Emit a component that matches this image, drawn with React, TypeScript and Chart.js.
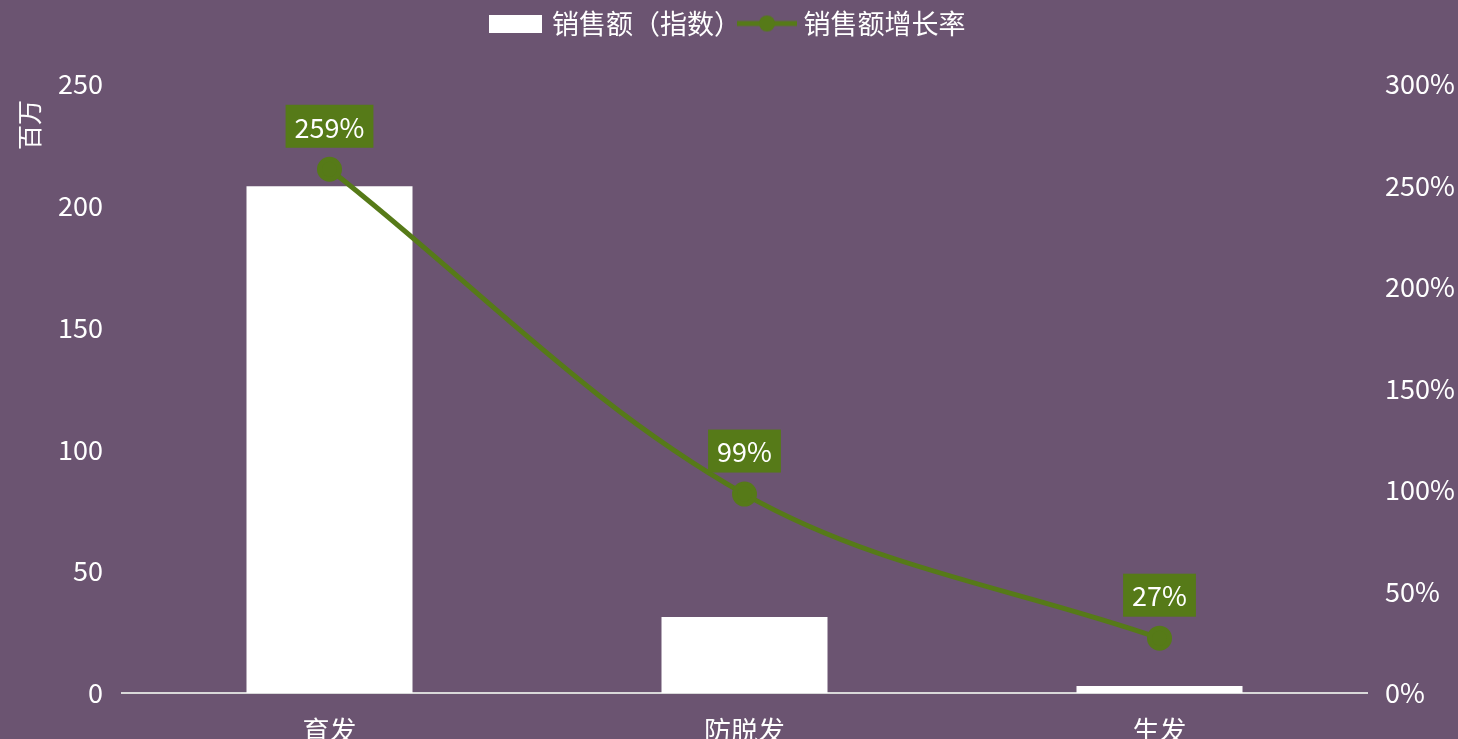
import React, { useEffect, useRef } from "react";
import { Chart, registerables } from "chart.js";

Chart.register(...registerables);

const categories = ["育发", "防脱发", "生发"];
const salesIndex = [208, 31.2, 2.9];
const growthRate = [2.58, 0.98, 0.27];
const growthLabels = ["259%", "99%", "27%"];
const leftTicks = [0, 50, 100, 150, 200, 250];
const rightTicks = [0, 0.5, 1, 1.5, 2, 2.5, 3];

const BG = "#6b5471";
const GREEN = "#567a18";
const FONT = "'Noto Sans CJK SC', 'Noto Sans', sans-serif";
const FS = 27;

function makeBarIcon() {
  const c = document.createElement("canvas");
  c.width = 53;
  c.height = 18;
  const ctx = c.getContext("2d")!;
  ctx.fillStyle = "#ffffff";
  ctx.fillRect(0, 0, 53, 18);
  return c;
}

function makeLineIcon() {
  const c = document.createElement("canvas");
  c.width = 60;
  c.height = 20;
  const ctx = c.getContext("2d")!;
  ctx.strokeStyle = GREEN;
  ctx.lineWidth = 5;
  ctx.beginPath();
  ctx.moveTo(0, 10);
  ctx.lineTo(60, 10);
  ctx.stroke();
  ctx.fillStyle = GREEN;
  ctx.beginPath();
  ctx.arc(30, 10, 8, 0, Math.PI * 2);
  ctx.fill();
  return c;
}

const bgPlugin = {
  id: "bg",
  beforeDraw(chart: any) {
    const ctx = chart.ctx;
    ctx.save();
    ctx.fillStyle = BG;
    ctx.fillRect(0, 0, chart.width, chart.height);
    ctx.restore();
  },
};

const legendGapPlugin = {
  id: "legendGap",
  beforeLayout(chart: any) {
    const leg = chart.legend;
    if (leg && !leg._gapPatched) {
      const orig = leg.fit.bind(leg);
      leg.fit = function () {
        orig();
        this.height += 37;
      };
      leg._gapPatched = true;
    }
  },
};

const extrasPlugin = {
  id: "extras",
  afterDatasetsDraw(chart: any) {
    const ctx = chart.ctx;
    const meta = chart.getDatasetMeta(1);
    ctx.save();
    ctx.font = `${FS}px ${FONT}`;
    ctx.textAlign = "center";
    ctx.textBaseline = "middle";
    meta.data.forEach((pt: any, i: number) => {
      const text = growthLabels[i];
      const w = ctx.measureText(text).width + 18;
      const h = 43;
      const cy = pt.y - 43;
      ctx.fillStyle = GREEN;
      ctx.fillRect(pt.x - w / 2, cy - h / 2, w, h);
      ctx.fillStyle = "#ffffff";
      ctx.fillText(text, pt.x, cy + 1);
    });
    // left axis unit title
    ctx.translate(29, chart.chartArea.top + 41);
    ctx.rotate(-Math.PI / 2);
    ctx.font = `25px ${FONT}`;
    ctx.fillStyle = "#ffffff";
    ctx.fillText("百万", 0, 0);
    ctx.restore();
  },
};

export default function App() {
  const ref = useRef<HTMLCanvasElement>(null);
  useEffect(() => {
    document.body.style.margin = "0";
    const barIcon = makeBarIcon();
    const lineIcon = makeLineIcon();
    const chart = new Chart(ref.current!, {
      type: "bar",
      data: {
        labels: categories,
        datasets: [
          {
            type: "bar",
            label: "销售额（指数）",
            data: salesIndex,
            backgroundColor: "#ffffff",
            borderWidth: 0,
            yAxisID: "y",
            categoryPercentage: 1,
            barPercentage: 0.4,
            order: 2,
          },
          {
            type: "line",
            label: "销售额增长率",
            data: growthRate,
            borderColor: GREEN,
            backgroundColor: GREEN,
            borderWidth: 5,
            pointRadius: 10,
            pointBackgroundColor: GREEN,
            pointBorderColor: GREEN,
            tension: 0.35,
            yAxisID: "y1",
            order: 1,
          },
        ],
      },
      options: {
        responsive: false,
        animation: false,
        maintainAspectRatio: false,
        layout: { padding: { top: 7, left: 0, right: 0, bottom: 0 } },
        plugins: {
          tooltip: { enabled: false },
          legend: {
            display: true,
            position: "top",
            labels: {
              color: "#ffffff",
              font: { family: FONT, size: FS },
              usePointStyle: true,
              pointStyleWidth: 46,
              boxHeight: 20,
              padding: 3,
              generateLabels: (ch: any) =>
                ch.data.datasets.map((ds: any, i: number) => ({
                  text: ds.label,
                  fillStyle: "#fff",
                  strokeStyle: "#fff",
                  lineWidth: 0,
                  pointStyle: i === 0 ? barIcon : lineIcon,
                  hidden: false,
                  datasetIndex: i,
                  fontColor: "#ffffff",
                })),
            },
          },
        },
        scales: {
          x: {
            grid: { display: false },
            border: { display: true, color: "#d9d9d9", width: 2 },
            ticks: {
              color: "#ffffff",
              font: { family: FONT, size: FS },
              padding: 14,
            },
            afterFit: (s: any) => {
              s.height = 46;
            },
          },
          y: {
            position: "left",
            min: 0,
            max: 250,
            grid: { display: false },
            border: { display: false },
            afterBuildTicks: (s: any) => {
              s.ticks = leftTicks.map((v) => ({ value: v }));
            },
            ticks: {
              color: "#ffffff",
              font: { family: FONT, size: FS },
              padding: 11,
            },
            afterFit: (s: any) => {
              s.width = 122;
            },
          },
          y1: {
            position: "right",
            min: 0,
            max: 3,
            grid: { display: false },
            border: { display: false },
            afterBuildTicks: (s: any) => {
              s.ticks = rightTicks.map((v) => ({ value: v }));
            },
            ticks: {
              color: "#ffffff",
              font: { family: FONT, size: FS },
              padding: 10,
              callback: (v: any) => `${Math.round(Number(v) * 100)}%`,
            },
            afterFit: (s: any) => {
              s.width = 91;
            },
          },
        },
      },
      plugins: [bgPlugin, legendGapPlugin, extrasPlugin],
    } as any);
    return () => chart.destroy();
  }, []);
  return <canvas ref={ref} width={1458} height={739} style={{ display: "block" }} />;
}
